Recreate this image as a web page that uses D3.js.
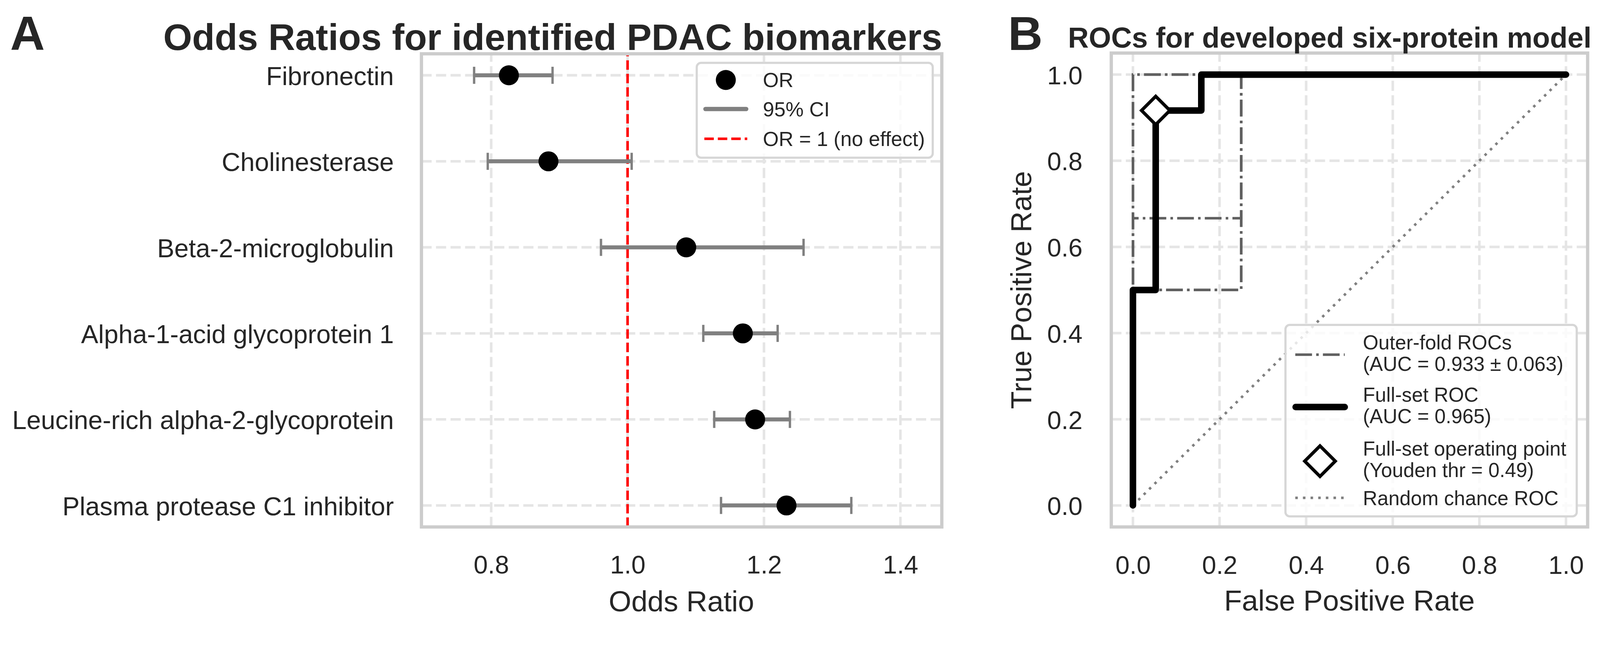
<!DOCTYPE html>
<html><head><meta charset="utf-8">
<script src="https://cdn.jsdelivr.net/npm/d3@7"></script>
<style>
html,body{margin:0;padding:0;background:#fff;width:100%;height:100%;overflow:hidden;}
svg{display:block;width:100vw;height:100vh;font-family:"Liberation Sans",Arial,Helvetica,sans-serif;}
</style></head><body>
<svg id="chart" viewBox="0 0 4400 1706" preserveAspectRatio="xMidYMin meet"></svg>
<script>
// ---------- DATA ----------
const categories = ["Fibronectin","Cholinesterase","Beta-2-microglobulin","Alpha-1-acid glycoprotein 1","Leucine-rich alpha-2-glycoprotein","Plasma protease C1 inhibitor"];
const oddsRatios = [0.826, 0.884, 1.086, 1.169, 1.187, 1.233];
const ciLower    = [0.775, 0.795, 0.961, 1.111, 1.127, 1.137];
const ciUpper    = [0.890, 1.006, 1.258, 1.220, 1.238, 1.328];
const orTicks = [0.8, 1.0, 1.2, 1.4];
const orDomain = [0.6978, 1.4607];
const noEffect = 1.0;

const fullFpr = [0, 0, 0.0526, 0.0526, 0.1579, 0.1579, 1.0];
const fullTpr = [0, 0.5, 0.5, 0.9167, 0.9167, 1.0, 1.0];
const foldFpr = [[0,0,0.25,0.25,1],[0,0,0.25,0.25,1],[0,0,0.25,0.25,1],[0,0,1],[0,0,1]];
const foldTpr = [[0,0.5,0.5,1,1],[0,0.6667,0.6667,1,1],[0,0.5,0.5,1,1],[0,1,1],[0,1,1]];
const opFpr = [0.0526];
const opTpr = [0.9167];
const chanceFpr = [0, 1];
const chanceTpr = [0, 1];
const rocTicks = [0, 0.2, 0.4, 0.6, 0.8, 1.0];
const rocDomain = [-0.05, 1.05];

const legendALabels = ["OR", "95% CI", "OR = 1 (no effect)"];
const legendBLabels = [["Outer-fold ROCs","(AUC = 0.933 \u00b1 0.063)"],["Full-set ROC","(AUC = 0.965)"],["Full-set operating point","(Youden thr = 0.49)"],["Random chance ROC"]];

// ---------- STYLE ----------
const TXT = "#262626", SPINE = "#cccccc", GRID = "#e5e5e5";
const FONT = '"Liberation Sans", Arial, Helvetica, sans-serif';

const svg = d3.select("#chart");
svg.append("rect").attr("width", 4400).attr("height", 1706).attr("fill", "#fff");

function styleAxis(g, size) {
  g.attr("font-size", size).attr("font-family", FONT).style("color", TXT);
  g.select(".domain").remove();
  g.selectAll(".tick line").remove();
}

// ================= PANEL A =================
const A = {l: 1159, r: 2590, t: 148, b: 1450};
const xA = d3.scaleLinear().domain(orDomain).range([A.l, A.r]);
const yA = d3.scalePoint().domain(categories).range([A.t, A.b]).padding(0.25);
const gA = svg.append("g");

gA.append("g").selectAll("line").data(orTicks).join("line")
  .attr("x1", d => xA(d)).attr("x2", d => xA(d)).attr("y1", A.b).attr("y2", A.t)
  .attr("stroke", GRID).attr("stroke-width", 7).attr("stroke-dasharray", "28,12");
gA.append("g").selectAll("line").data(categories).join("line")
  .attr("x1", A.l).attr("x2", A.r).attr("y1", d => yA(d)).attr("y2", d => yA(d))
  .attr("stroke", GRID).attr("stroke-width", 7).attr("stroke-dasharray", "28,12");

const axAx = gA.append("g").attr("transform", `translate(0,${A.b})`)
  .call(d3.axisBottom(xA).tickValues(orTicks).tickFormat(d3.format(".1f")).tickSize(0).tickPadding(78));
styleAxis(axAx, 70);
const axAy = gA.append("g").attr("transform", `translate(${A.l},0)`)
  .call(d3.axisLeft(yA).tickSize(0).tickPadding(76));
styleAxis(axAy, 71);
axAy.selectAll("text").attr("dy", "0.37em");

gA.append("line").attr("x1", xA(noEffect)).attr("x2", xA(noEffect)).attr("y1", A.b).attr("y2", A.t)
  .attr("stroke", "#ff0000").attr("stroke-width", 7).attr("stroke-dasharray", "26,11");

const rowsA = categories.map((c, i) => ({c, or: oddsRatios[i], lo: ciLower[i], hi: ciUpper[i]}));
const eb = gA.append("g");
eb.selectAll("line.bar").data(rowsA).join("line").attr("class", "bar")
  .attr("x1", d => xA(d.lo)).attr("x2", d => xA(d.hi)).attr("y1", d => yA(d.c)).attr("y2", d => yA(d.c))
  .attr("stroke", "#808080").attr("stroke-width", 11);
eb.selectAll("line.caplo").data(rowsA).join("line").attr("class", "caplo")
  .attr("x1", d => xA(d.lo)).attr("x2", d => xA(d.lo)).attr("y1", d => yA(d.c) - 23.5).attr("y2", d => yA(d.c) + 23.5)
  .attr("stroke", "#808080").attr("stroke-width", 6.5);
eb.selectAll("line.caphi").data(rowsA).join("line").attr("class", "caphi")
  .attr("x1", d => xA(d.hi)).attr("x2", d => xA(d.hi)).attr("y1", d => yA(d.c) - 23.5).attr("y2", d => yA(d.c) + 23.5)
  .attr("stroke", "#808080").attr("stroke-width", 6.5);
eb.selectAll("circle").data(rowsA).join("circle")
  .attr("cx", d => xA(d.or)).attr("cy", d => yA(d.c)).attr("r", 27.5).attr("fill", "#000");

gA.append("rect").attr("x", A.l).attr("y", A.t).attr("width", A.r - A.l).attr("height", A.b - A.t)
  .attr("fill", "none").attr("stroke", SPINE).attr("stroke-width", 9);

const lgA = gA.append("g");
lgA.append("rect").attr("x", 1916).attr("y", 173).attr("width", 649).attr("height", 261).attr("rx", 12)
  .attr("fill", "#fff").attr("fill-opacity", 0.8).attr("stroke", "#d6d6d6").attr("stroke-width", 6);
const lgAy = [220, 300, 382];
lgA.append("circle").attr("cx", 1996).attr("cy", lgAy[0]).attr("r", 27.5).attr("fill", "#000");
lgA.append("line").attr("x1", 1940).attr("x2", 2052).attr("y1", lgAy[1]).attr("y2", lgAy[1])
  .attr("stroke", "#808080").attr("stroke-width", 12).attr("stroke-linecap", "round");
lgA.append("line").attr("x1", 1937).attr("x2", 2055).attr("y1", lgAy[2]).attr("y2", lgAy[2])
  .attr("stroke", "#ff0000").attr("stroke-width", 7).attr("stroke-dasharray", "26,11");
lgA.selectAll("text").data(legendALabels).join("text")
  .attr("x", 2098).attr("y", (d, i) => lgAy[i] + 20).attr("font-size", 56).attr("fill", TXT).text(d => d);

svg.append("text").attr("x", 1874).attr("y", 1682).attr("text-anchor", "middle").attr("font-size", 80)
  .attr("fill", TXT).text("Odds Ratio");
svg.append("text").attr("x", 449).attr("y", 137).attr("font-size", 102).attr("font-weight", "bold")
  .attr("fill", TXT).text("Odds Ratios for identified PDAC biomarkers");
svg.append("text").attr("x", 28).attr("y", 137).attr("font-size", 132).attr("font-weight", "bold")
  .attr("fill", TXT).text("A");

// ================= PANEL B =================
const B = {l: 3056, r: 4366, t: 146, b: 1450};
const xB = d3.scaleLinear().domain(rocDomain).range([B.l, B.r]);
const yB = d3.scaleLinear().domain(rocDomain).range([B.b, B.t]);
const gB = svg.append("g");

gB.append("g").selectAll("line").data(rocTicks).join("line")
  .attr("x1", d => xB(d)).attr("x2", d => xB(d)).attr("y1", B.b).attr("y2", B.t)
  .attr("stroke", GRID).attr("stroke-width", 7).attr("stroke-dasharray", "28,12");
gB.append("g").selectAll("line").data(rocTicks).join("line")
  .attr("x1", B.l).attr("x2", B.r).attr("y1", d => yB(d)).attr("y2", d => yB(d))
  .attr("stroke", GRID).attr("stroke-width", 7).attr("stroke-dasharray", "28,12");

const axBx = gB.append("g").attr("transform", `translate(0,${B.b})`)
  .call(d3.axisBottom(xB).tickValues(rocTicks).tickFormat(d3.format(".1f")).tickSize(0).tickPadding(79));
styleAxis(axBx, 70);
const axBy = gB.append("g").attr("transform", `translate(${B.l},0)`)
  .call(d3.axisLeft(yB).tickValues(rocTicks).tickFormat(d3.format(".1f")).tickSize(0).tickPadding(79));
styleAxis(axBy, 70);
axBy.selectAll("text").attr("dy", "0.37em");

const line = d3.line().x(d => xB(d[0])).y(d => yB(d[1]));
gB.append("path").datum(d3.zip(chanceFpr, chanceTpr)).attr("d", line)
  .attr("fill", "none").attr("stroke", "#808080").attr("stroke-width", 7).attr("stroke-dasharray", "7,14");
gB.append("g").selectAll("path").data(foldFpr.map((f, i) => d3.zip(f, foldTpr[i]))).join("path")
  .attr("d", line).attr("fill", "none").attr("stroke", "#606060").attr("stroke-width", 7)
  .attr("stroke-dasharray", "46,11.5,7,11.5");
gB.append("path").datum(d3.zip(fullFpr, fullTpr)).attr("d", line)
  .attr("fill", "none").attr("stroke", "#000").attr("stroke-width", 18)
  .attr("stroke-linejoin", "round").attr("stroke-linecap", "round");
const diamond = (cx, cy, r) => `M${cx},${cy - r}L${cx + r},${cy}L${cx},${cy + r}L${cx - r},${cy}Z`;
gB.append("g").selectAll("path").data(d3.zip(opFpr, opTpr)).join("path")
  .attr("d", d => diamond(xB(d[0]), yB(d[1]), 39))
  .attr("fill", "#fff").attr("stroke", "#000").attr("stroke-width", 9).attr("stroke-linejoin", "miter");

gB.append("rect").attr("x", B.l).attr("y", B.t).attr("width", B.r - B.l).attr("height", B.b - B.t)
  .attr("fill", "none").attr("stroke", SPINE).attr("stroke-width", 9);

const lgB = gB.append("g");
lgB.append("rect").attr("x", 3535).attr("y", 894).attr("width", 801).attr("height", 527).attr("rx", 12)
  .attr("fill", "#fff").attr("fill-opacity", 0.8).attr("stroke", "#d6d6d6").attr("stroke-width", 6);
const lgBy = [976, 1120, 1269, 1370];
lgB.append("line").attr("x1", 3562).attr("x2", 3698).attr("y1", lgBy[0]).attr("y2", lgBy[0])
  .attr("stroke", "#606060").attr("stroke-width", 7).attr("stroke-dasharray", "46,11.5,7,11.5");
lgB.append("line").attr("x1", 3563).attr("x2", 3698).attr("y1", lgBy[1]).attr("y2", lgBy[1])
  .attr("stroke", "#000").attr("stroke-width", 18).attr("stroke-linecap", "round");
lgB.append("path").attr("d", diamond(3630, lgBy[2], 42))
  .attr("fill", "#fff").attr("stroke", "#000").attr("stroke-width", 9);
lgB.append("line").attr("x1", 3562).attr("x2", 3698).attr("y1", lgBy[3]).attr("y2", lgBy[3])
  .attr("stroke", "#808080").attr("stroke-width", 7).attr("stroke-dasharray", "7,14");
legendBLabels.forEach((lines, i) => {
  const t = lgB.append("text").attr("font-size", 55).attr("fill", TXT);
  if (lines.length === 1) {
    t.append("tspan").attr("x", 3748).attr("y", lgBy[i] + 20).text(lines[0]);
  } else {
    t.append("tspan").attr("x", 3748).attr("y", lgBy[i] - 15).text(lines[0]);
    t.append("tspan").attr("x", 3748).attr("y", lgBy[i] + 44).text(lines[1]);
  }
});

svg.append("text").attr("x", (B.l + B.r) / 2).attr("y", 1680).attr("text-anchor", "middle").attr("font-size", 80)
  .attr("fill", TXT).text("False Positive Rate");
svg.append("text").attr("transform", `translate(2836,${(B.t + B.b) / 2}) rotate(-90)`).attr("text-anchor", "middle")
  .attr("font-size", 80).attr("fill", TXT).text("True Positive Rate");
svg.append("text").attr("x", 2937).attr("y", 131).attr("font-size", 79).attr("font-weight", "bold")
  .attr("fill", TXT).text("ROCs for developed six-protein model");
svg.append("text").attr("x", 2772).attr("y", 137).attr("font-size", 132).attr("font-weight", "bold")
  .attr("fill", TXT).text("B");
</script>
</body></html>
